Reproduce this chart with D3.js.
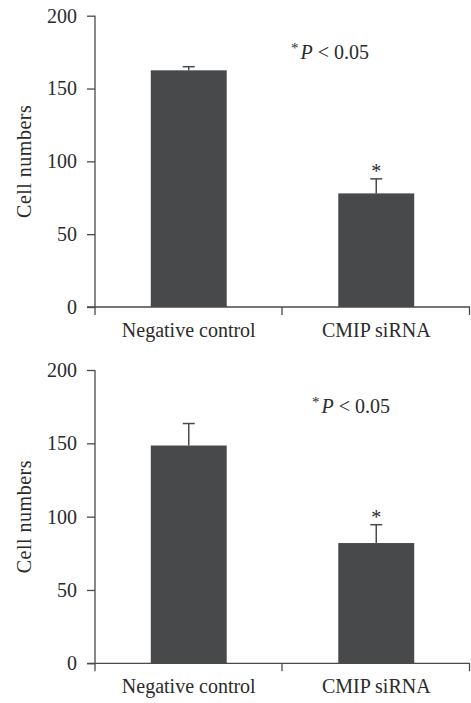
<!DOCTYPE html>
<html lang="en">
  <head>
    <meta charset="utf-8">
    <title>Cell numbers bar charts</title>
    <script src="https://d3js.org/d3.v7.js"></script>
    <style>
      body { margin: 0; background: #fff; }
      text { font-family: "Liberation Serif", "DejaVu Serif", serif; fill: #2b2b2b; }
    </style>
  </head>

  <body>
    <svg></svg>

  <script>

// Data

  var categories = ["Negative control", "CMIP siRNA"];
  var topMeans = [162.5, 78];
  var topErrors = [2.5, 10];
  var bottomMeans = [148.5, 82];
  var bottomErrors = [15, 12.5];
  var yTicks = [0, 50, 100, 150, 200];
  var starred = [false, true];
  var noteText = "P < 0.05";

  var w = 471;
  var h = 703;
  var axisColor = "#4a4a4a";
  var barColor = "#48494b";
  var fontSize = "20px";

  var svg = d3.select("svg")
      .attr("width", w)
      .attr("height", h);

  function panel(means, errors, top, bottom, noteX, noteY) {
    var g = svg.append("g");

    var xScale = d3.scaleBand()
        .domain(categories)
        .range([95, 470]);

    var yScale = d3.scaleLinear()
        .domain([0, 200])
        .range([bottom, top]);

    var barW = xScale.bandwidth() * 0.405;

    // y axis
    var yAxis = d3.axisLeft(yScale)
        .tickValues(yTicks)
        .tickSize(8)
        .tickPadding(10)
        .tickSizeOuter(0);

    var ya = g.append("g")
        .attr("transform", "translate(95,0)")
        .call(yAxis);
    ya.select(".domain").remove();
    ya.selectAll("line").attr("stroke", axisColor).attr("stroke-width", 1.3);
    ya.selectAll("text")
        .style("font-size", fontSize)
        .style("font-family", "Liberation Serif, serif")
        .attr("fill", "#2b2b2b");

    g.append("line")
        .attr("x1", 95).attr("x2", 95)
        .attr("y1", yScale(200)).attr("y2", yScale(0) + 8)
        .attr("stroke", axisColor).attr("stroke-width", 1.3);

    // x axis
    g.append("line")
        .attr("x1", 87).attr("x2", 470)
        .attr("y1", yScale(0)).attr("y2", yScale(0))
        .attr("stroke", axisColor).attr("stroke-width", 1.3);

    var edges = categories.map(d => xScale(d) + xScale.bandwidth());
    g.selectAll(".xtick")
        .data(edges)
      .enter().append("line")
        .attr("class", "xtick")
        .attr("x1", d => d - 0.5).attr("x2", d => d - 0.5)
        .attr("y1", yScale(0)).attr("y2", yScale(0) + 8)
        .attr("stroke", axisColor).attr("stroke-width", 1.3);

    g.selectAll(".xlabel")
        .data(categories)
      .enter().append("text")
        .attr("class", "xlabel")
        .attr("x", d => xScale(d) + xScale.bandwidth() / 2)
        .attr("y", yScale(0) + 30)
        .attr("text-anchor", "middle")
        .style("font-size", fontSize)
        .text(d => d);

    // y title
    g.append("text")
        .attr("transform", `translate(31, ${(yScale(0) + yScale(200)) / 2}) rotate(-90)`)
        .attr("text-anchor", "middle")
        .style("font-size", fontSize)
        .style("letter-spacing", "0.5px")
        .text("Cell numbers");

    // error bars (upper half only)
    categories.forEach(function(c, i) {
      var cx = xScale(c) + xScale.bandwidth() / 2;
      g.append("line")
          .attr("x1", cx).attr("x2", cx)
          .attr("y1", yScale(means[i])).attr("y2", yScale(means[i] + errors[i]))
          .attr("stroke", axisColor).attr("stroke-width", 1.5);
      g.append("line")
          .attr("x1", cx - 6).attr("x2", cx + 6)
          .attr("y1", yScale(means[i] + errors[i])).attr("y2", yScale(means[i] + errors[i]))
          .attr("stroke", axisColor).attr("stroke-width", 1.5);
      if (starred[i]) {
        g.append("text")
            .attr("x", cx)
            .attr("y", yScale(means[i] + errors[i]) - 1)
            .attr("text-anchor", "middle")
            .style("font-size", fontSize)
            .text("*");
      }
    });

    // bars
    g.selectAll(".bar")
        .data(categories)
      .enter().append("rect")
        .attr("class", "bar")
        .attr("x", d => xScale(d) + (xScale.bandwidth() - barW) / 2)
        .attr("y", (d, i) => yScale(means[i]))
        .attr("width", barW)
        .attr("height", (d, i) => yScale(0) - yScale(means[i]))
        .attr("fill", barColor);

    // significance note
    var note = g.append("text")
        .attr("x", noteX)
        .attr("y", noteY)
        .style("font-size", fontSize);
    note.append("tspan")
        .attr("dy", -6)
        .style("font-size", "15px")
        .text("*");
    note.append("tspan")
        .attr("dy", 6)
        .attr("dx", 2)
        .style("font-style", "italic")
        .text("P");
    note.append("tspan")
        .text(noteText.slice(1));
  }

  panel(topMeans, topErrors, 15.7, 307, 291, 59);
  panel(bottomMeans, bottomErrors, 370, 663.3, 312, 413);

    </script>

  </body>

</html>
